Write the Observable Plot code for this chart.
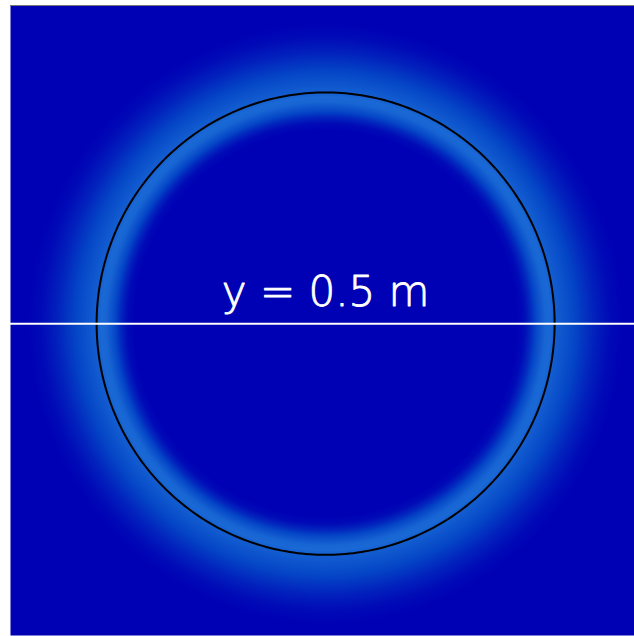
<!DOCTYPE html>
<html>
<head>
<meta charset="utf-8">
<script src="https://cdn.jsdelivr.net/npm/d3@7"></script>
<script src="https://cdn.jsdelivr.net/npm/@observablehq/plot@0.6"></script>
<style>
  html, body { margin: 0; padding: 0; background: #ffffff; }
  #chart svg { display: block; }
</style>
</head>
<body>
<div id="chart"></div>
<script>
// Domain of the field (metres)
const xDomain = [-0.005, 0.995];
const yDomain = [0.005, 1.005];
// Circle (interface) centre and radius, metres
const circleCenter = [0.5, 0.5];
const circleRadius = 0.367;
// Radial profile of the glow: distance from centre (m) -> intensity
const profileR = [0.000, 0.305, 0.318, 0.329, 0.340, 0.352, 0.360, 0.367, 0.386, 0.407, 0.431, 0.455, 0.479, 1.000];
const profileI = [0.00, 0.00, 0.08, 0.30, 0.60, 0.88, 0.92, 0.80, 0.65, 0.45, 0.24, 0.08, 0.00, 0.00];
// Cut line and label
const cutY = [0.5];
const labels = ["y = 0.5 m"];

const glow = d3.scaleLinear().domain(profileR).range(profileI).clamp(true);
const circlePts = d3.range(0, 361, 1).map(a => ({
  x: circleCenter[0] + circleRadius * Math.cos(a * Math.PI / 180),
  y: circleCenter[1] + circleRadius * Math.sin(a * Math.PI / 180)
}));

const chart = Plot.plot({
  width: 634,
  height: 636,
  marginLeft: 10,
  marginRight: 0,
  marginTop: 5,
  marginBottom: 1,
  x: {axis: null, domain: xDomain},
  y: {axis: null, domain: yDomain},
  color: {type: "linear", domain: [0, 0.5, 1], range: ["#0000b4", "#0444c6", "#1e70d8"]},
  style: {background: "#ffffff"},
  marks: [
    Plot.raster({
      fill: (x, y) => glow(Math.hypot(x - circleCenter[0], y - circleCenter[1])),
      x1: xDomain[0], x2: xDomain[1], y1: yDomain[0], y2: yDomain[1],
      pixelSize: 1
    }),
    Plot.ruleY([yDomain[1]], {stroke: "#777777", strokeWidth: 1}),
    Plot.line(circlePts, {x: "x", y: "y", stroke: "#000000", strokeWidth: 2}),
    Plot.ruleY(cutY, {stroke: "#ffffff", strokeWidth: 2}),
    Plot.text(labels, {
      x: circleCenter[0], y: cutY[0], text: d => d,
      dy: -18, lineAnchor: "bottom",
      fill: "#ffffff", stroke: "#ffffff", strokeWidth: 0.9,
      fontSize: 42,
      fontFamily: "DejaVu Sans", fontWeight: 200
    })
  ]
});
document.getElementById("chart").appendChild(chart);
</script>
</body>
</html>
